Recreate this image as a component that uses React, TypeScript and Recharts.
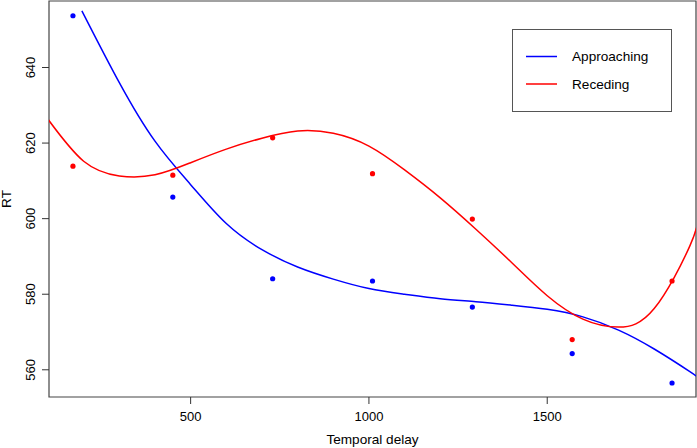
import { ComposedChart, Line, Scatter, XAxis, YAxis, ReferenceArea, Legend, Label } from 'recharts'

const APP = '#0000ff', REC = '#ff0000', INK = '#333'
const FONT = '"Liberation Sans", Arial, sans-serif'

// observed means
const DELAYS = [170, 450, 730, 1010, 1290, 1570, 1850]
const APPROACH_RT = [653.7, 605.7, 584.1, 583.5, 576.6, 564.3, 556.5]
const RECEDE_RT = [613.9, 611.5, 621.4, 611.9, 599.9, 568.0, 583.5]

// fitted curves
const APPROACH_FIT_X = [195, 300, 400, 500, 600, 700, 800, 900, 1000, 1100, 1200, 1300, 1400, 1500, 1600, 1700, 1800, 1900, 1925]
const APPROACH_FIT_Y = [655, 636, 620.5, 609, 598.7, 591.8, 587.2, 584, 581.5, 580, 578.8, 578, 577.1, 576, 574, 570.5, 565.5, 559.5, 557.8]
const RECEDE_FIT_X = [100, 200, 300, 400, 500, 600, 700, 800, 900, 1000, 1100, 1200, 1300, 1400, 1500, 1600, 1700, 1800, 1900, 1925]
const RECEDE_FIT_Y = [626.3, 615.2, 611.3, 611.6, 614.8, 618.4, 621.3, 623.2, 622.6, 619.2, 612.9, 605.5, 597.2, 588.4, 579.6, 573.4, 571.3, 576.2, 592.8, 600.5]

const X_TICKS = [500, 1000, 1500]
const Y_TICKS = [560, 580, 600, 620, 640]
const XMIN = 102.8, XMAX = 1917.2, YMIN = 552.8, YMAX = 657.6

const pts = (xs: number[], ys: number[]) => xs.map((x, i) => ({ x, y: ys[i] }))

const YTick = ({ x, y, payload }: any) => (
  <text x={x - 5} y={y} transform={`rotate(-90, ${x - 5}, ${y})`} textAnchor="middle"
    fontSize={13} fontFamily={FONT} fill="#000">{payload.value}</text>
)

const LegendBox = () => (
  <svg width={160} height={83} style={{ display: 'block' }}>
    <rect x={0.5} y={0.5} width={159} height={82} fill="#fff" stroke="#555" />
    <line x1={14} x2={45} y1={27.5} y2={27.5} stroke={APP} strokeWidth={1.5} />
    <line x1={14} x2={45} y1={55} y2={55} stroke={REC} strokeWidth={1.5} />
    <text x={60} y={27.5} dominantBaseline="central" fontSize={13.6} fontFamily={FONT}>Approaching</text>
    <text x={60} y={55} dominantBaseline="central" fontSize={13.6} fontFamily={FONT}>Receding</text>
  </svg>
)

export default function App() {
  return (
    <div style={{ position: 'absolute', left: 0, top: 0, background: '#fff' }}>
      <ComposedChart width={697} height={448} margin={{ top: 1, right: 1, left: 0, bottom: 0 }}>
        <XAxis type="number" dataKey="x" domain={[XMIN, XMAX]} ticks={X_TICKS} allowDataOverflow
          height={51} tickSize={7} tickMargin={8} axisLine={false} stroke={INK}
          tick={{ fontSize: 13, fontFamily: FONT, fill: '#000' }}>
          <Label content={({ viewBox }: any) => (
            <text x={viewBox.x + viewBox.width / 2} y={444} textAnchor="middle" fontSize={13.6}
              fontFamily={FONT} fill="#000">Temporal delay</text>
          )} />
        </XAxis>
        <YAxis type="number" dataKey="y" domain={[YMIN, YMAX]} ticks={Y_TICKS} allowDataOverflow
          width={49} tickSize={7} axisLine={false} stroke={INK} tick={<YTick />}>
          <Label content={({ viewBox }: any) => {
            const cy = viewBox.y + viewBox.height / 2
            return (
              <text x={11} y={cy} transform={`rotate(-90, 11, ${cy})`} textAnchor="middle" fontSize={13.6}
                fontFamily={FONT} fill="#000">RT</text>
            )
          }} />
        </YAxis>
        <ReferenceArea x1={XMIN} x2={XMAX} y1={YMIN} y2={YMAX} fill="none" stroke="#444" strokeWidth={1.2} />
        <Line data={pts(APPROACH_FIT_X, APPROACH_FIT_Y)} dataKey="y" type="natural" stroke={APP}
          strokeWidth={1.5} dot={false} isAnimationActive={false} />
        <Line data={pts(RECEDE_FIT_X, RECEDE_FIT_Y)} dataKey="y" type="natural" stroke={REC}
          strokeWidth={1.5} dot={false} isAnimationActive={false} />
        <Scatter data={pts(DELAYS, APPROACH_RT)} dataKey="y" fill={APP} isAnimationActive={false}
          shape={(p: any) => <circle cx={p.cx} cy={p.cy} r={2.6} fill={APP} />} />
        <Scatter data={pts(DELAYS, RECEDE_RT)} dataKey="y" fill={REC} isAnimationActive={false}
          shape={(p: any) => <circle cx={p.cx} cy={p.cy} r={2.6} fill={REC} />} />
        <Legend layout="horizontal" verticalAlign="middle" align="center" content={<LegendBox />}
          wrapperStyle={{ left: 512, top: 29, width: 160, height: 83 }} />
      </ComposedChart>
    </div>
  )
}
